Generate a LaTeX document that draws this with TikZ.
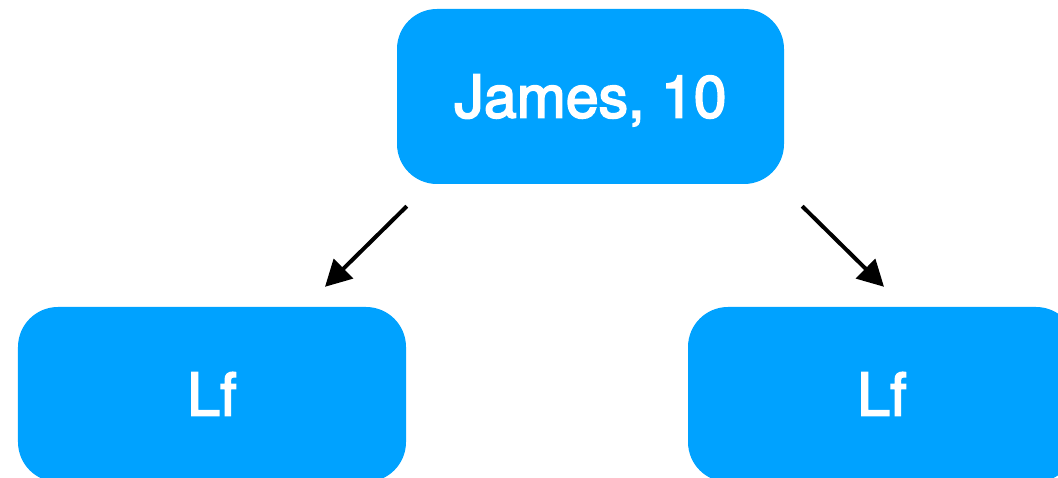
\documentclass[tikz,border=0pt]{standalone}
\usepackage{fontspec}
\setmainfont{TeX Gyre Heros}
\newfontfamily\labelfont[FakeBold=3]{TeX Gyre Heros}
\usetikzlibrary{arrows.meta}
\usetikzlibrary{calc}
\definecolor{boxblue}{HTML}{00A2FF}

\tikzset{
  treebox/.style={fill=boxblue, draw=none, rounded corners=40bp,
    minimum width=388bp, minimum height=175bp, text=white,
    font=\labelfont\fontsize{59bp}{66bp}\selectfont, inner sep=0pt,
    text height=42bp, text depth=0pt},
  childarrow/.style={line width=4bp, -{Triangle[length=26bp,width=27bp]}}
}

\begin{document}
\begin{tikzpicture}[x=1bp,y=-1bp]
      \useasboundingbox (0,0) rectangle (1058,478);
      \clip (0,0) rectangle (1058,478);

      \node[treebox, minimum width=387bp] (james) at (590.5,96.5) {James, 10};
      \node[treebox] (leftlf) at (212,394.5) {Lf};
      \node[treebox] (rightlf) at (882,394.5) {Lf};

      % arrows start in the gap under the root
      \coordinate (lstart) at ($(james.south west)+(10,22)$);
      \coordinate (lend) at ($(leftlf.north)+(113,-20)$);
      \coordinate (rstart) at ($(james.south east)+(18,22)$);
      \coordinate (rend) at ($(rightlf.north)+(2,-20)$);

      \draw[childarrow] (lstart) -- (lend);
      \draw[childarrow] (rstart) -- (rend);
\end{tikzpicture}
\end{document}
